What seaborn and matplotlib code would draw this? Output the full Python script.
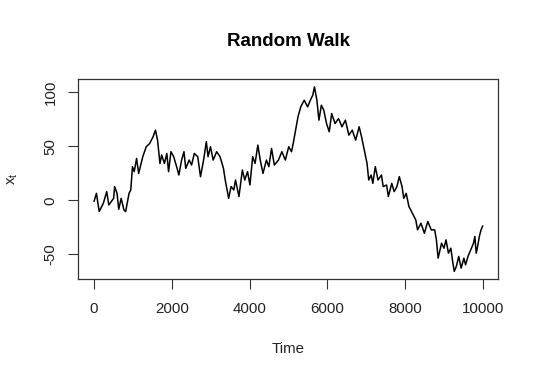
import matplotlib
matplotlib.use("Agg")
import matplotlib.pyplot as plt
import seaborn as sns
import pandas as pd

# values
time = [0, 62, 133, 239, 327, 380, 504, 530, 592, 636, 698, 769, 813, 901, 945, 989,
        1034, 1095, 1148, 1254, 1343, 1431, 1519, 1581, 1634, 1696, 1740, 1811, 1873,
        1917, 1979, 2049, 2138, 2182, 2253, 2314, 2359, 2447, 2509, 2580, 2668, 2739,
        2818, 2889, 2933, 2995, 3065, 3154, 3242, 3330, 3375, 3463, 3525, 3595, 3640,
        3728, 3816, 3878, 3949, 4011, 4081, 4143, 4214, 4276, 4346, 4435, 4497, 4567,
        4638, 4744, 4832, 4921, 5009, 5080, 5124, 5186, 5247, 5318, 5406, 5495, 5583,
        5627, 5671, 5733, 5786, 5848, 5910, 5981, 6051, 6113, 6201, 6290, 6378, 6467,
        6555, 6643, 6731, 6820, 6882, 6952, 7023, 7067, 7129, 7173, 7235, 7306, 7394,
        7438, 7527, 7571, 7659, 7721, 7792, 7853, 7924, 7968, 8030, 8101, 8189, 8277,
        8322, 8410, 8498, 8587, 8675, 8763, 8807, 8852, 8940, 9002, 9055, 9117, 9179,
        9232, 9267, 9320, 9382, 9444, 9514, 9558, 9620, 9691, 9762, 9797, 9832, 9868,
        9912, 9956, 10000]
x_t = [-1, 6.4, -10.4, -2.8, 8.0, -4.3, 1.8, 12.6, 6.4, -8.3, 1.8, -8.9, -10.4, 6.4,
       9.5, 31, 26.4, 38.6, 24.8, 40.2, 49.4, 52.4, 58.6, 64.7, 55.5, 34, 41.7, 34,
       43.2, 26.4, 44.8, 40.2, 29.4, 23.3, 37.1, 44.8, 29.4, 37.1, 32.5, 43.2, 40.2,
       21.8, 37.1, 54, 40.2, 49.4, 37.1, 44.8, 40.2, 29.4, 18.7, 1.8, 12.6, 9.5, 18.7,
       3.4, 27.9, 18.7, 26.4, 14.1, 40.2, 34, 50.9, 37.1, 24.8, 37.1, 31, 47.8, 32.5,
       37.1, 44.8, 37.1, 49.4, 44.8, 52.4, 64.7, 77, 86.2, 92.3, 86.2, 93.8, 96.9,
       104.6, 92.3, 73.9, 87.7, 83.1, 70.8, 63.2, 80, 70.8, 75.4, 67.8, 73.9, 60.1,
       64.7, 55.5, 67.8, 58.6, 46.3, 34, 18.7, 23.3, 15.6, 31, 18.7, 23.3, 12.6, 14.1,
       3.4, 15.6, 8.0, 12.6, 21.8, 12.6, 1.8, 6.4, -5.8, -12, -18.1, -27.3, -21.2,
       -30.4, -19.6, -27.3, -27.3, -36.5, -53.4, -39.6, -44.2, -36.5, -48.8, -44.2,
       -58, -65.6, -61, -51.8, -62.6, -53.4, -59.5, -51.8, -45.7, -39.6, -33.4, -48.8,
       -42.6, -33.4, -27.3, -23.6]
x_ticks = [0, 2000, 4000, 6000, 8000, 10000]
y_ticks = [-50, 0, 50, 100]

sns.set_theme(style="white")
plt.rcParams['font.family'] = ['Liberation Sans', 'DejaVu Sans']
plt.rcParams['mathtext.fontset'] = 'custom'
plt.rcParams['mathtext.rm'] = 'Liberation Sans'
plt.rcParams['mathtext.it'] = 'Liberation Sans'

df = pd.DataFrame({"Time": time, "x_t": x_t})

fig = plt.figure(figsize=(5.39, 3.78), dpi=100)
ax = fig.add_axes([0.1456, 0.2611, 0.7789, 0.5294])
sns.lineplot(data=df, x="Time", y="x_t", ax=ax, color="black", linewidth=1.1)

ax.set_xlim(-400, 10400)
ax.set_ylim(-72.9, 111.7)
ax.set_xticks(x_ticks)
ax.set_yticks(y_ticks)
ax.set_xticklabels([str(v) for v in x_ticks])
ax.set_yticklabels([str(v) for v in y_ticks], rotation=90, va="center")

for s in ax.spines.values():
    s.set_visible(True)
    s.set_color("#333333")
    s.set_linewidth(0.9)

ax.tick_params(axis="both", direction="out", length=7, width=0.8, color="#333333",
               labelsize=10.8, labelcolor="#222222", left=True, bottom=True)
ax.tick_params(axis="x", pad=9)
ax.tick_params(axis="y", pad=8)

ax.set_title("Random Walk", fontsize=13.5, fontweight="bold", y=1.19, pad=0,
             va="center", color="black")
ax.set_xlabel("Time", fontsize=10.8, va="center", color="#222222")
ax.xaxis.set_label_coords(0.5, -0.35)
ax.set_ylabel(r"$\mathregular{x_t}$", fontsize=10.8, va="center", color="#222222")
ax.yaxis.set_label_coords(-0.157, 0.5)

fig.savefig("out.png", dpi=100)
